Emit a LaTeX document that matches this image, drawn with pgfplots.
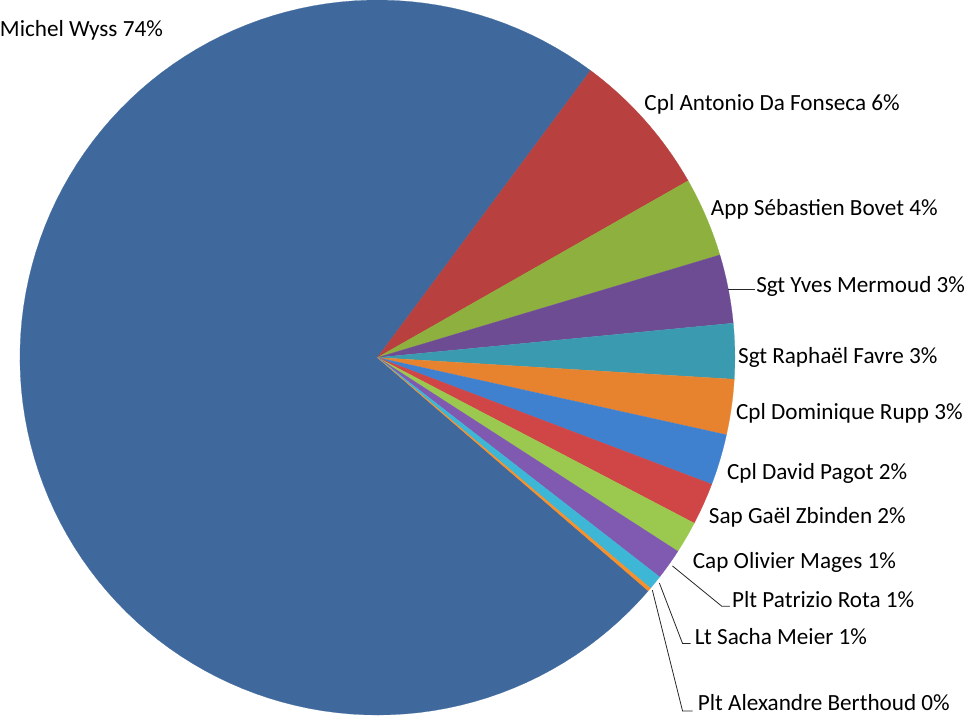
\documentclass[border=0pt]{standalone}
\usepackage{pgfplots}
\pgfplotsset{compat=1.18}
\usepackage{pgfplotstable}
\usepackage{fontspec}
\setmainfont{Carlito}

\definecolor{piecol0}{HTML}{3F699D}
\definecolor{piecol1}{HTML}{B8413F}
\definecolor{piecol2}{HTML}{8DB03E}
\definecolor{piecol3}{HTML}{6E4C94}
\definecolor{piecol4}{HTML}{3A9BB0}
\definecolor{piecol5}{HTML}{E7822E}
\definecolor{piecol6}{HTML}{3F80CF}
\definecolor{piecol7}{HTML}{D04545}
\definecolor{piecol8}{HTML}{9BC84F}
\definecolor{piecol9}{HTML}{8059B0}
\definecolor{piecol10}{HTML}{3EB6D5}
\definecolor{piecol11}{HTML}{F7902A}

% share of each person, in %
\pgfplotstableread[col sep=comma]{
name,value
Michel Wyss,73.85
Cpl Antonio Da Fonseca,6.6
App Sébastien Bovet,3.6
Sgt Yves Mermoud,3.1
Sgt Raphaël Favre,2.5
Cpl Dominique Rupp,2.5
Cpl David Pagot,2.3
Sap Gaël Zbinden,1.9
Cap Olivier Mages,1.45
Plt Patrizio Rota,1.4
Lt Sacha Meier,0.65
Plt Alexandre Berthoud,0.15
}\piedata

% cumulative angles (clockwise)
\xdef\curang{319.26}
\pgfplotsforeachungrouped \i in {0,...,11}{%
  \pgfplotstablegetelem{\i}{value}\of\piedata
  \pgfmathsetmacro\nextang{\curang-3.6*\pgfplotsretval}%
  \expandafter\xdef\csname sa\i\endcsname{\curang}%
  \expandafter\xdef\csname ea\i\endcsname{\nextang}%
  \xdef\curang{\nextang}%
}

\begin{document}
\begin{tikzpicture}
\begin{axis}[width=965bp,height=724bp,scale only axis,
  xmin=0,xmax=965,ymin=0,ymax=724,hide axis,clip=false]
\pgfplotsinvokeforeach{0,...,11}{
  \edef\lo{\csname ea#1\endcsname}\edef\hi{\csname sa#1\endcsname}
  \addplot[draw=piecol#1, line width=0.2pt, fill=piecol#1, domain=\lo:\hi, samples=120, variable=\t]
    ({375+355*cos(t)},{358+355*sin(t)}) -- (axis cs:375,358) -- cycle;
}
% leader lines
\addplot[black!85, line width=0.8pt] coordinates {(723,426) (750,426)};
\addplot[black!85, line width=0.8pt] coordinates {(668,151) (717,111) (725,111)};
\addplot[black!85, line width=0.8pt] coordinates {(655,134) (678,74) (686,74)};
\addplot[black!85, line width=0.8pt] coordinates {(648,127) (678,7) (688,7)};

\tikzset{lbl/.style={anchor=base west, inner sep=0pt, text=black, font=\fontsize{23bp}{27bp}\selectfont}}
\node[lbl] at (axis cs:0,676.5) {Michel Wyss 74\%};
\node[lbl] at (axis cs:640,603.5) {Cpl Antonio Da Fonseca 6\%};
\node[lbl] at (axis cs:706,499.5) {App Sébastien Bovet 4\%};
\node[lbl] at (axis cs:751,422.5) {Sgt Yves Mermoud 3\%};
\node[lbl] at (axis cs:733,352) {Sgt Raphaël Favre 3\%};
\node[lbl] at (axis cs:731,296.5) {Cpl Dominique Rupp 3\%};
\node[lbl] at (axis cs:722,236.5) {Cpl David Pagot 2\%};
\node[lbl] at (axis cs:704,193.5) {Sap Gaël Zbinden 2\%};
\node[lbl] at (axis cs:688,148.5) {Cap Olivier Mages 1\%};
\node[lbl] at (axis cs:727,109.5) {Plt Patrizio Rota 1\%};
\node[lbl] at (axis cs:690,73.5) {Lt Sacha Meier 1\%};
\node[lbl] at (axis cs:693,7.5) {Plt Alexandre Berthoud 0\%};
\end{axis}
\end{tikzpicture}
\end{document}
